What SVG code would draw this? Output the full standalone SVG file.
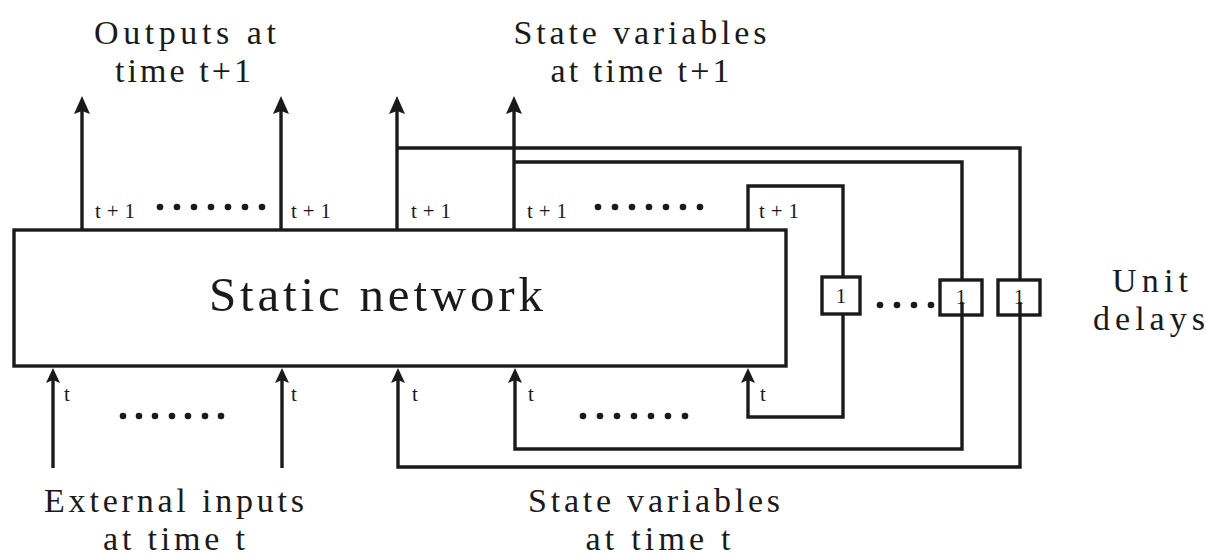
<svg xmlns="http://www.w3.org/2000/svg" width="1206" height="555" viewBox="0 0 1206 555">
<style>
.ln{fill:none;stroke:#1a1a1a;stroke-width:3.4;stroke-linejoin:miter}
.box{fill:#fff;stroke:#1a1a1a;stroke-width:3.4}
.lbl{font-family:"Liberation Serif",serif;font-size:34px;fill:#1a1a1a}
.big{font-family:"Liberation Serif",serif;font-size:49px;fill:#1a1a1a}
.sm{font-family:"Liberation Serif",serif;font-size:21px;fill:#1a1a1a}
.dl{font-family:"Liberation Serif",serif;font-size:21px;fill:#1a1a1a}
.dot{fill:#1a1a1a}
</style>
<defs>
<marker id="ah" markerUnits="userSpaceOnUse" markerWidth="20" markerHeight="16" viewBox="0 0 20 16" refX="4" refY="8" orient="auto">
<path d="M0,0 L18,8 L0,16 L3,8 Z" fill="#1a1a1a"/>
</marker>
<marker id="ahs" markerUnits="userSpaceOnUse" markerWidth="16" markerHeight="14" viewBox="0 0 16 14" refX="3" refY="7" orient="auto">
<path d="M0,0 L15,7 L0,14 L3,7 Z" fill="#1a1a1a"/>
</marker>
<circle id="d" r="3.3" class="dot"/>
</defs>
<rect width="1206" height="555" fill="#fff"/>

<g id="connectors">
<path class="ln" d="M82,230 V110" marker-end="url(#ah)"/>
<path class="ln" d="M281,230 V110" marker-end="url(#ah)"/>
<path class="ln" d="M397,230 V110" marker-end="url(#ah)"/>
<path class="ln" d="M514,230 V110" marker-end="url(#ah)"/>
<path class="ln" d="M397,148 H1020 V280"/>
<path class="ln" d="M514,162 H962 V280"/>
<path class="ln" d="M748,230 V186 H843 V277"/>
<path class="ln" d="M843,314 V417 H748 V380" marker-end="url(#ahs)"/>
<path class="ln" d="M962,302 V449 H515 V380" marker-end="url(#ahs)"/>
<path class="ln" d="M1020,302 V467 H398 V380" marker-end="url(#ahs)"/>
<path class="ln" d="M53,468 V380" marker-end="url(#ahs)"/>
<path class="ln" d="M282,468 V380" marker-end="url(#ahs)"/>
</g>

<g id="static-network">
<rect class="box" x="14" y="230" width="772" height="136"/>
<text class="big" x="376" y="311" text-anchor="middle" textLength="334" lengthAdjust="spacing">Static network</text>
</g>

<g id="delay-1">
<rect class="box" x="822" y="277" width="38" height="37"/>
<text class="dl" x="841" y="303" text-anchor="middle">1</text>
</g>
<g id="delay-2">
<rect class="box" x="940" y="280" width="42" height="35"/>
<path class="ln" d="M962,315 V302"/>
<text class="dl" x="961" y="304" text-anchor="middle">1</text>
</g>
<g id="delay-3">
<rect class="box" x="998" y="280" width="42" height="35"/>
<path class="ln" d="M1020,315 V302"/>
<text class="dl" x="1019" y="304" text-anchor="middle">1</text>
</g>

<g id="small-labels">
<text class="sm" x="95" y="218" textLength="40" lengthAdjust="spacing">t+1</text>
<text class="sm" x="291" y="218" textLength="40" lengthAdjust="spacing">t+1</text>
<text class="sm" x="411" y="218" textLength="40" lengthAdjust="spacing">t+1</text>
<text class="sm" x="527" y="218" textLength="40" lengthAdjust="spacing">t+1</text>
<text class="sm" x="759" y="218" textLength="40" lengthAdjust="spacing">t+1</text>
<text class="sm" x="64" y="401">t</text>
<text class="sm" x="291" y="401">t</text>
<text class="sm" x="412" y="401">t</text>
<text class="sm" x="528" y="401">t</text>
<text class="sm" x="760" y="401">t</text>
</g>

<g id="ellipses">
<use href="#d" x="160" y="207"/><use href="#d" x="177" y="207"/><use href="#d" x="194" y="207"/><use href="#d" x="211" y="207"/><use href="#d" x="228" y="207"/><use href="#d" x="245" y="207"/><use href="#d" x="262" y="207"/>
<use href="#d" x="598" y="207"/><use href="#d" x="615" y="207"/><use href="#d" x="632" y="207"/><use href="#d" x="649" y="207"/><use href="#d" x="666" y="207"/><use href="#d" x="683" y="207"/><use href="#d" x="700" y="207"/>
<use href="#d" x="123" y="416"/><use href="#d" x="139" y="416"/><use href="#d" x="155" y="416"/><use href="#d" x="172" y="416"/><use href="#d" x="188" y="416"/><use href="#d" x="205" y="416"/><use href="#d" x="221" y="416"/>
<use href="#d" x="583" y="416"/><use href="#d" x="600" y="416"/><use href="#d" x="617" y="416"/><use href="#d" x="634" y="416"/><use href="#d" x="651" y="416"/><use href="#d" x="668" y="416"/><use href="#d" x="685" y="416"/>
<use href="#d" x="880" y="305"/><use href="#d" x="897" y="305"/><use href="#d" x="914" y="305"/><use href="#d" x="931" y="305"/>
</g>

<g id="labels">
<text class="lbl" x="185" y="44" text-anchor="middle" textLength="182" lengthAdjust="spacing">Outputs at</text>
<text class="lbl" x="183" y="82" text-anchor="middle" textLength="136" lengthAdjust="spacing">time t+1</text>
<text class="lbl" x="640" y="44" text-anchor="middle" textLength="253" lengthAdjust="spacing">State variables</text>
<text class="lbl" x="640" y="82" text-anchor="middle" textLength="179" lengthAdjust="spacing">at time t+1</text>
<text class="lbl" x="174" y="512" text-anchor="middle" textLength="260" lengthAdjust="spacing">External inputs</text>
<text class="lbl" x="174" y="550" text-anchor="middle" textLength="142" lengthAdjust="spacing">at time t</text>
<text class="lbl" x="654" y="512" text-anchor="middle" textLength="252" lengthAdjust="spacing">State variables</text>
<text class="lbl" x="658" y="550" text-anchor="middle" textLength="145" lengthAdjust="spacing">at time t</text>
<text class="lbl" x="1150" y="292" text-anchor="middle" textLength="76" lengthAdjust="spacing">Unit</text>
<text class="lbl" x="1149" y="330" text-anchor="middle" textLength="112" lengthAdjust="spacing">delays</text>
</g>
</svg>
